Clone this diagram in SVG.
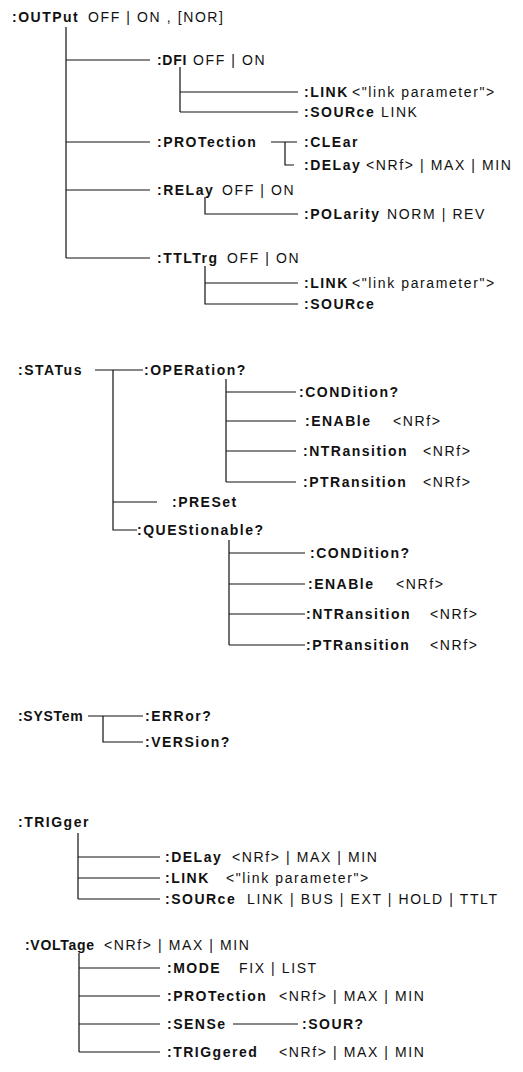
<svg xmlns="http://www.w3.org/2000/svg" width="523" height="1072" viewBox="0 0 523 1072">
<style>
text{font-family:"Liberation Sans",Arial,Helvetica,sans-serif;font-size:14px;font-weight:bold;letter-spacing:1.5px;fill:#111}
tspan.p{font-weight:normal;letter-spacing:1.6px}
text.n{letter-spacing:0.7px}
#connectors path{stroke:#111;stroke-width:1.2;fill:none}
</style>
<rect width="523" height="1072" fill="#fff"/>
<g id="connectors">
<path d="M66,27V258M66,60H150M66,142H150M66,190H150M66,258H150"/>
<path d="M180,67V112M180,92H298M180,112H298"/>
<path d="M271,142H297M285,142V165H294"/>
<path d="M205,197V214H298"/>
<path d="M205,266V304H298M205,283H298"/>
<path d="M95,370H143M113,370V530H137M113,502H157"/>
<path d="M226,379V482M226,392H296M226,421H296M226,451H296M226,482H296"/>
<path d="M229,540V645M229,553H305M229,584H305M229,614H305M229,645H305"/>
<path d="M88,716H143M103,716V742H143"/>
<path d="M78,833V899M78,857H160M78,878H160M78,899H160"/>
<path d="M79,953V1052M79,968H160M79,996H160M79,1024H160M79,1052H160M233,1024H298"/>
</g>
<g id="output"><text x="12" y="22">:OUTPut<tspan class="p" x="88">OFF | ON , [NOR]</tspan></text></g>
<g id="dfi"><text class="n" x="157" y="65">:DFI<tspan class="p" x="193">OFF | ON</tspan></text></g>
<g id="dfi-link"><text x="304" y="97">:LINK<tspan class="p" x="352">&lt;"link parameter"&gt;</tspan></text></g>
<g id="dfi-source"><text x="304" y="117">:SOURce<tspan class="p" x="381">LINK</tspan></text></g>
<g id="protection"><text x="157" y="147">:PROTection</text></g>
<g id="prot-clear"><text x="304" y="147">:CLEar</text></g>
<g id="prot-delay"><text x="304" y="170">:DELay<tspan class="p" x="366">&lt;NRf&gt; | MAX | MIN</tspan></text></g>
<g id="relay"><text x="157" y="195">:RELay<tspan class="p" x="222">OFF | ON</tspan></text></g>
<g id="relay-polarity"><text x="304" y="219">:POLarity<tspan class="p" x="387">NORM | REV</tspan></text></g>
<g id="ttltrg"><text x="157" y="263">:TTLTrg<tspan class="p" x="227">OFF | ON</tspan></text></g>
<g id="ttl-link"><text x="304" y="288">:LINK<tspan class="p" x="352">&lt;"link parameter"&gt;</tspan></text></g>
<g id="ttl-source"><text x="304" y="309">:SOURce</text></g>
<g id="status"><text x="18" y="375">:STATus</text></g>
<g id="operation"><text x="144" y="375">:OPERation?</text></g>
<g id="op-condition"><text x="299" y="397">:CONDition?</text></g>
<g id="op-enable"><text x="305" y="426">:ENABle<tspan class="p" x="393">&lt;NRf&gt;</tspan></text></g>
<g id="op-ntr"><text x="303" y="456">:NTRansition<tspan class="p" x="423">&lt;NRf&gt;</tspan></text></g>
<g id="op-ptr"><text x="303" y="487">:PTRansition<tspan class="p" x="423">&lt;NRf&gt;</tspan></text></g>
<g id="preset"><text x="172" y="507">:PRESet</text></g>
<g id="questionable"><text x="137" y="535">:QUEStionable?</text></g>
<g id="q-condition"><text x="310" y="558">:CONDition?</text></g>
<g id="q-enable"><text x="308" y="589">:ENABle<tspan class="p" x="396">&lt;NRf&gt;</tspan></text></g>
<g id="q-ntr"><text x="306" y="619">:NTRansition<tspan class="p" x="430">&lt;NRf&gt;</tspan></text></g>
<g id="q-ptr"><text x="306" y="650">:PTRansition<tspan class="p" x="430">&lt;NRf&gt;</tspan></text></g>
<g id="system"><text class="n" x="18" y="721">:SYSTem</text></g>
<g id="sys-error"><text x="145" y="721">:ERRor?</text></g>
<g id="sys-version"><text x="145" y="747">:VERSion?</text></g>
<g id="trigger"><text x="18" y="827">:TRIGger</text></g>
<g id="trig-delay"><text x="165" y="862">:DELay<tspan class="p" x="232">&lt;NRf&gt; | MAX | MIN</tspan></text></g>
<g id="trig-link"><text x="165" y="883">:LINK<tspan class="p" x="226">&lt;"link parameter"&gt;</tspan></text></g>
<g id="trig-source"><text x="165" y="904">:SOURce<tspan class="p" x="247">LINK | BUS | EXT | HOLD | TTLT</tspan></text></g>
<g id="voltage"><text class="n" x="25" y="950">:VOLTage<tspan class="p" x="104">&lt;NRf&gt; | MAX | MIN</tspan></text></g>
<g id="volt-mode"><text x="167" y="973">:MODE<tspan class="p" x="239">FIX | LIST</tspan></text></g>
<g id="volt-protection"><text x="167" y="1001">:PROTection<tspan class="p" x="279">&lt;NRf&gt; | MAX | MIN</tspan></text></g>
<g id="volt-sense"><text x="167" y="1029">:SENSe</text></g>
<g id="volt-sour"><text x="302" y="1029">:SOUR?</text></g>
<g id="volt-triggered"><text x="167" y="1057">:TRIGgered<tspan class="p" x="279">&lt;NRf&gt; | MAX | MIN</tspan></text></g>
</svg>
